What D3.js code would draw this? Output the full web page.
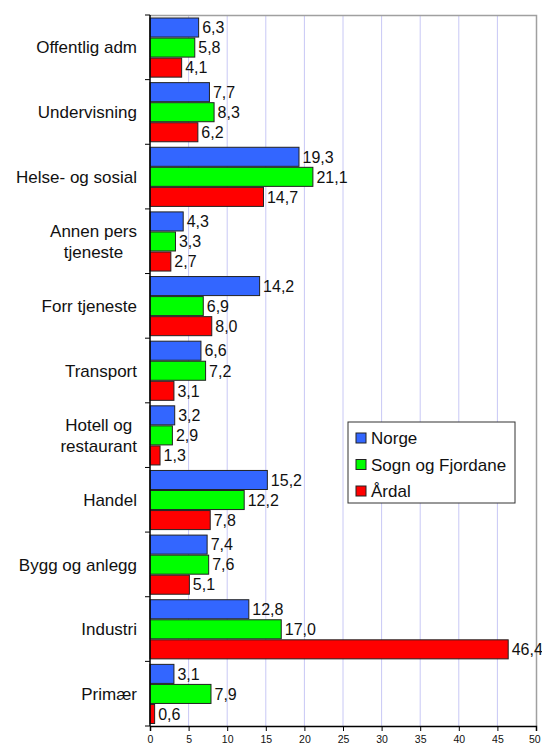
<!DOCTYPE html>
<html><head><meta charset="utf-8">
<script src="https://cdn.jsdelivr.net/npm/d3@7/dist/d3.min.js"></script>
<style>body{margin:0;background:#fff;}svg{display:block;font-family:"Liberation Sans",Arial,sans-serif;}</style>
</head><body>
<svg id="c" width="542" height="747"></svg>
<script>
const categories = ["Offentlig adm","Undervisning","Helse- og sosial","Annen pers\ntjeneste","Forr tjeneste","Transport","Hotell og\nrestaurant","Handel","Bygg og anlegg","Industri","Primær"];
const seriesNames = ["Norge","Sogn og Fjordane","Årdal"];
const norge = [6.3,7.7,19.3,4.3,14.2,6.6,3.2,15.2,7.4,12.8,3.1];
const sognFjordane = [5.8,8.3,21.1,3.3,6.9,7.2,2.9,12.2,7.6,17.0,7.9];
const aardal = [4.1,6.2,14.7,2.7,8.0,3.1,1.3,7.8,5.1,46.4,0.6];
const colors = ["#3366ff","#00ff00","#ff0000"];
const xTicks = [0,5,10,15,20,25,30,35,40,45,50];

const values = [norge, sognFjordane, aardal];
const svg = d3.select("#c");
const L = 150, R = 536, T = 15, B = 726;
const x = d3.scaleLinear().domain([0,50]).range([L,R]);
const y = d3.scaleBand().domain(categories).range([T,B]).padding(0);
const yi = d3.scaleBand().domain(seriesNames).range([3, y.bandwidth()-2.5]).paddingInner(0.05);

// gridlines
svg.append("g").selectAll("line").data(xTicks.slice(1,-1)).join("line")
  .attr("x1",d=>x(d)).attr("x2",d=>x(d)).attr("y1",T).attr("y2",B)
  .attr("stroke","#c8c8f5").attr("stroke-width",1);
// border top/right
svg.append("path").attr("d",`M${L},${T+0.5}H${R+0.5}V${B}`).attr("fill","none").attr("stroke","#a0a0a0").attr("stroke-width",1.5);

// bars
const g = svg.append("g");
categories.forEach((c,ci)=>{
  seriesNames.forEach((s,si)=>{
    const v = values[si][ci];
    g.append("rect").attr("x",x(0)).attr("y",y(c)+yi(s)).attr("width",x(v)-x(0)).attr("height",yi.bandwidth())
      .attr("fill",colors[si]).attr("stroke","#222").attr("stroke-width",1);
    g.append("text").attr("x",x(v)+3.5).attr("y",y(c)+yi(s)+yi.bandwidth()/2).attr("dy","0.36em")
      .attr("font-size",16).attr("fill","#111").text(d3.format(".1f")(v).replace(".",","));
  });
});

// left axis
svg.append("line").attr("x1",L).attr("x2",L).attr("y1",T).attr("y2",B).attr("stroke","#000").attr("stroke-width",1.5);
const bounds = categories.map(c=>y(c)).concat([B]);
svg.append("g").selectAll("line").data(bounds).join("line")
  .attr("x1",L-5).attr("x2",L).attr("y1",d=>d).attr("y2",d=>d).attr("stroke","#000");

// category labels
categories.forEach(c=>{
  const lines = c.split("\n");
  const cy = y(c)+y.bandwidth()/2;
  const tg = svg.append("g");
  const lh = 21.5;
  const ts = lines.map((ln,i)=>tg.append("text").attr("font-size",17).attr("fill","#111")
    .attr("y",cy+(i-(lines.length-1)/2)*lh).attr("dy","0.36em").text(ln));
  const widths = ts.map(t=>t.node().getComputedTextLength());
  const mw = Math.max(...widths);
  const right = 137;
  ts.forEach((t,i)=>t.attr("x", right - mw/2).attr("text-anchor","middle"));
});

// bottom axis
const xa = svg.append("g").attr("transform",`translate(0,${B})`)
  .call(d3.axisBottom(x).tickValues(xTicks).tickSize(5).tickPadding(5));
xa.select(".domain").attr("stroke","#000").attr("stroke-width",1.5);
xa.selectAll("line").attr("stroke","#000");
xa.selectAll("text").attr("font-size",10.5).attr("fill","#111").style("font-family","Liberation Sans, Arial, sans-serif");
xa.selectAll(".tick:last-of-type text").attr("text-anchor","end").attr("dx","0.4em");

// legend
const lg = svg.append("g").attr("transform","translate(348,422)");
lg.append("rect").attr("width",167).attr("height",81).attr("fill","#fff").attr("stroke","#333");
seriesNames.forEach((s,i)=>{
  const yy = 16 + i*26.5;
  lg.append("rect").attr("x",8).attr("y",yy-5).attr("width",10).attr("height",10).attr("fill",colors[i]).attr("stroke","#222");
  lg.append("text").attr("x",23).attr("y",yy).attr("dy","0.36em").attr("font-size",17).attr("fill","#111").text(s);
});
</script>
</body></html>
